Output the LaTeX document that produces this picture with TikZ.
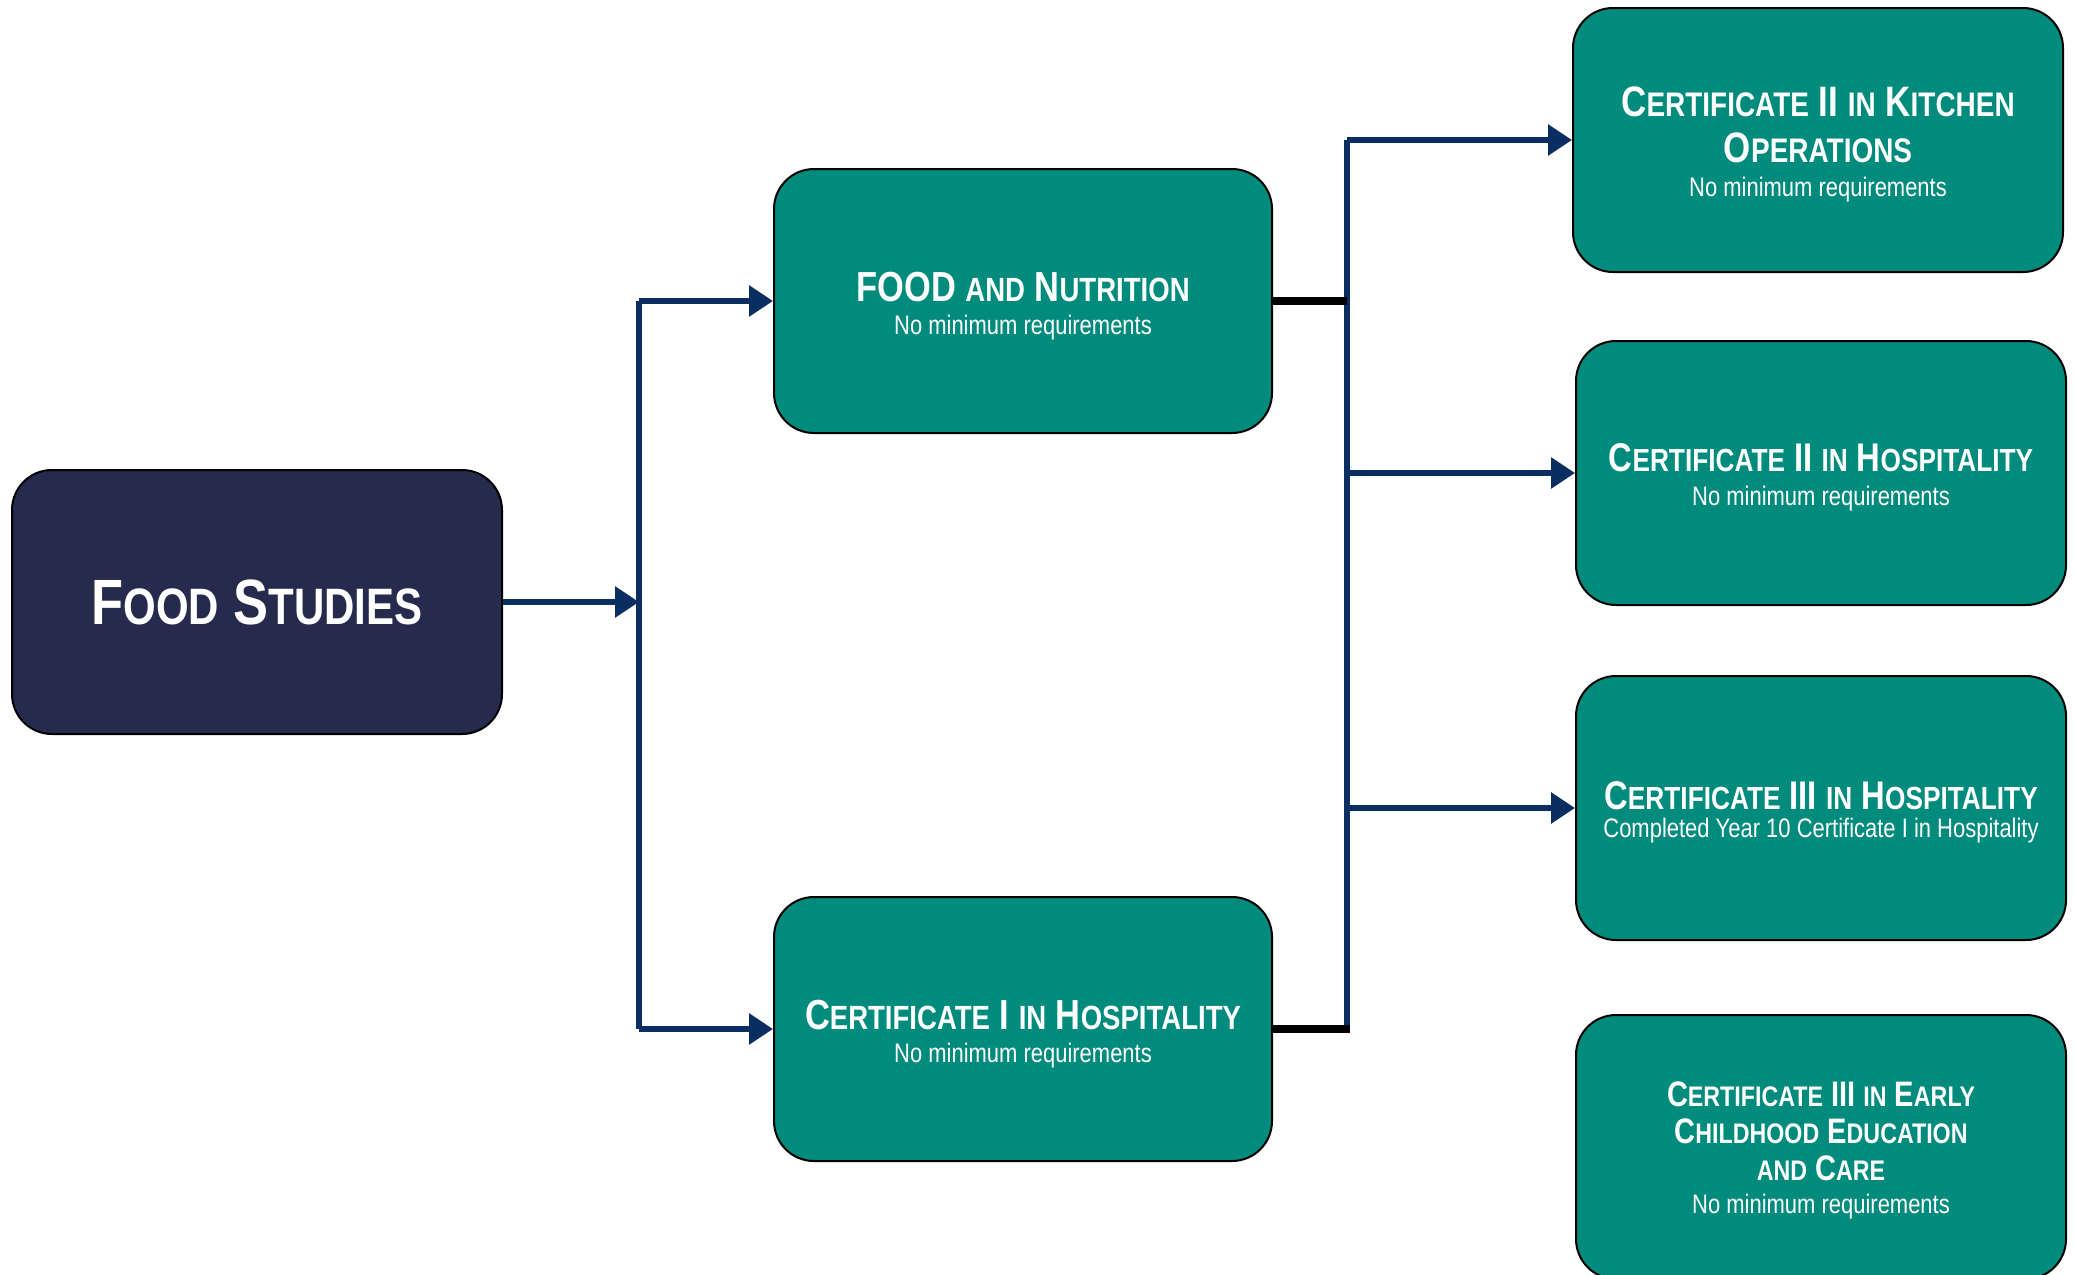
\documentclass[tikz,border=0pt]{standalone}
\usepackage{fontspec}
\setmainfont{Liberation Sans}[FakeStretch=0.82]
\usetikzlibrary{arrows.meta}
\definecolor{teal}{HTML}{008B7D}
\definecolor{navybox}{HTML}{262B4D}
\definecolor{linenavy}{HTML}{0B2E62}
\makeatletter
\newcommand\fsc[1]{{\fontsize{\the\dimexpr 0.8\dimexpr\f@size pt\relax\relax}{0pt}\selectfont #1}}
\makeatother
\newcommand\subt{\mdseries\fontsize{13.4pt}{15pt}\selectfont}
\newcommand\tp{\rule{0pt}{\dimexpr 0.73em+4pt\relax}}
\tikzset{
  box/.style={draw=black, line width=1pt, rounded corners=20pt, fill=teal, text=white,
    align=center, minimum width=245pt, minimum height=132pt, inner sep=0pt},
  mainbox/.style={box, fill=navybox},
  ttl/.style 2 args={font=\bfseries\fontsize{#1}{#2}\selectfont},
  conn/.style={draw=linenavy, line width=3.2pt},
  arr/.style={conn, -{Triangle[length=12pt,width=15pt]}},
  stub/.style={draw=black, line width=3.8pt},
}
\begin{document}
\begin{tikzpicture}[x=0.5pt,y=-0.5pt]
\useasboundingbox (0,0) rectangle (2075,1274);
% boxes
\node[mainbox, ttl={32pt}{36pt}] (fs) at (257,602) {F\fsc{OOD} S\fsc{TUDIES}};
\node[box, minimum width=249pt, ttl={21pt}{21pt}] (fn) at (1023,301) {\tp FOOD \fsc{AND} N\fsc{UTRITION}\\[-4.5pt]{\subt No minimum requirements}};
\node[box, minimum width=249pt, ttl={21pt}{21pt}] (c1) at (1023,1029) {\tp C\fsc{ERTIFICATE} I \fsc{IN} H\fsc{OSPITALITY}\\[-4.5pt]{\subt No minimum requirements}};
\node[box, ttl={21.3pt}{23pt}] (k) at (1818,140) {\tp C\fsc{ERTIFICATE} II \fsc{IN} K\fsc{ITCHEN}\\O\fsc{PERATIONS}\\[-6pt]{\subt No minimum requirements}};
\node[box, ttl={20pt}{21pt}] (h2) at (1821,473) {\tp C\fsc{ERTIFICATE} II \fsc{IN} H\fsc{OSPITALITY}\\[-4pt]{\subt No minimum requirements}};
\node[box, ttl={20pt}{21pt}] (h3) at (1821,808) {\tp C\fsc{ERTIFICATE} III \fsc{IN} H\fsc{OSPITALITY}\\[-7pt]{\subt Completed Year 10 Certificate I in Hospitality}};
\node[box, ttl={17.7pt}{18.5pt}] (ec) at (1821,1147) {\rule{0pt}{\dimexpr 0.73em+2.5pt\relax}C\fsc{ERTIFICATE} III \fsc{IN} E\fsc{ARLY}\\C\fsc{HILDHOOD} E\fsc{DUCATION}\\\fsc{AND} C\fsc{ARE}\\[-2pt]{\subt No minimum requirements}};
% left connectors
\coordinate (j1) at (639,602);
\coordinate (bus) at (1347,602);
\draw[arr] (fs.east) -- (j1);
\draw[conn] (j1 |- fn.west) -- (j1 |- c1.west);
\draw[arr] (j1 |- fn.west) -- (fn.west);
\draw[arr] (j1 |- c1.west) -- (c1.west);
% right connectors
\draw[conn] (bus |- k.west) -- (bus |- c1.east);
\draw[stub] (fn.east) -- (bus |- fn.east);
\draw[stub] (c1.east) -- ([xshift=1.6pt]bus |- c1.east);
\draw[arr] (bus |- k.west) -- (k.west);
\draw[arr] (bus |- h2.west) -- (h2.west);
\draw[arr] (bus |- h3.west) -- (h3.west);
\end{tikzpicture}
\end{document}
